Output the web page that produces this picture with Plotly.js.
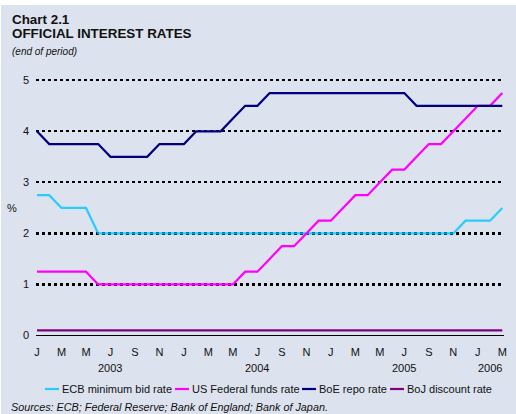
<!DOCTYPE html>
<html>
<head>
<meta charset="utf-8">
<script src="https://cdn.plot.ly/plotly-3.0.1.min.js"></script>
<style>
  html, body { margin: 0; padding: 0; background: #ffffff; width: 516px; height: 414px; overflow: hidden; }
  #chart { position: absolute; left: 1px; top: 5px; width: 515px; height: 409px; }
</style>
</head>
<body>
<div id="chart"></div>
<script>
// ---- data ----
const months = [
  '2003-01','2003-02','2003-03','2003-04','2003-05','2003-06','2003-07','2003-08','2003-09','2003-10','2003-11','2003-12',
  '2004-01','2004-02','2004-03','2004-04','2004-05','2004-06','2004-07','2004-08','2004-09','2004-10','2004-11','2004-12',
  '2005-01','2005-02','2005-03','2005-04','2005-05','2005-06','2005-07','2005-08','2005-09','2005-10','2005-11','2005-12',
  '2006-01','2006-02','2006-03'
];
const ecbRate = [
  2.75,2.75,2.5,2.5,2.5,2.0,2.0,2.0,2.0,2.0,2.0,2.0,
  2.0,2.0,2.0,2.0,2.0,2.0,2.0,2.0,2.0,2.0,2.0,2.0,
  2.0,2.0,2.0,2.0,2.0,2.0,2.0,2.0,2.0,2.0,2.0,2.25,
  2.25,2.25,2.5
];
const usRate = [
  1.25,1.25,1.25,1.25,1.25,1.0,1.0,1.0,1.0,1.0,1.0,1.0,
  1.0,1.0,1.0,1.0,1.0,1.25,1.25,1.5,1.75,1.75,2.0,2.25,
  2.25,2.5,2.75,2.75,3.0,3.25,3.25,3.5,3.75,3.75,4.0,4.25,
  4.5,4.5,4.75
];
const boeRate = [
  4.0,3.75,3.75,3.75,3.75,3.75,3.5,3.5,3.5,3.5,3.75,3.75,
  3.75,4.0,4.0,4.0,4.25,4.5,4.5,4.75,4.75,4.75,4.75,4.75,
  4.75,4.75,4.75,4.75,4.75,4.75,4.75,4.5,4.5,4.5,4.5,4.5,
  4.5,4.5,4.5
];
const bojRate = [
  0.1,0.1,0.1,0.1,0.1,0.1,0.1,0.1,0.1,0.1,0.1,0.1,
  0.1,0.1,0.1,0.1,0.1,0.1,0.1,0.1,0.1,0.1,0.1,0.1,
  0.1,0.1,0.1,0.1,0.1,0.1,0.1,0.1,0.1,0.1,0.1,0.1,
  0.1,0.1,0.1
];
const seriesNames = ['ECB minimum bid rate','US Federal funds rate','BoE repo rate','BoJ discount rate'];
const monthTickVals = ['2003-01','2003-03','2003-05','2003-07','2003-09','2003-11',
  '2004-01','2004-03','2004-05','2004-07','2004-09','2004-11',
  '2005-01','2005-03','2005-05','2005-07','2005-09','2005-11',
  '2006-01','2006-03'];
const monthTickText = ['J','M','M','J','S','N','J','M','M','J','S','N','J','M','M','J','S','N','J','M'];
const yearLabels = ['2003','2004','2005','2006'];
const yearPositions = ['2003-07','2004-07','2005-07','2006-02'];
const yTickVals = [0,1,2,3,4,5];

// ---- styles ----
const colors = ['rgba(0,200,255,0.82)','#ff00ff','#000080','#800080'];
const FONT = 'Liberation Sans, Arial, Helvetica, sans-serif';
const BG = '#dce2ee';

// page pixel -> paper coordinates
const L = 35, R = 12, T = 73, B = 77, DW = 515, DH = 409, OX = 1, OY = 5;
const PW = DW - L - R, PH = DH - T - B;
const px = x => (x - OX - L) / PW;
const py = y => (DH - B - (y - OY)) / PH;

const allSeries = [ecbRate, usRate, boeRate, bojRate];
const traces = allSeries.map((vals, i) => ({
  type: 'scatter', mode: 'lines', x: months, y: vals, name: seriesNames[i],
  line: { color: colors[i], width: 2.2 }, showlegend: false, hoverinfo: 'skip'
}));

const annotations = [
  { text: '<b>Chart 2.1</b>', x: px(9.5), y: py(19), font: { size: 13.4, color: '#111' } },
  { text: '<b>OFFICIAL INTEREST RATES</b>', x: px(9.5), y: py(34), font: { size: 13.4, color: '#111' } },
  { text: '<i>(end of period)</i>', x: px(10), y: py(51.5), font: { size: 10, color: '#111' } },
  { text: '<i>Sources: ECB; Federal Reserve; Bank of England; Bank of Japan.</i>', x: px(9), y: py(407), font: { size: 10.8, color: '#111' } },
].map(a => Object.assign({ xref: 'paper', yref: 'paper', xanchor: 'left', yanchor: 'middle', showarrow: false }, a));

annotations.push({ text: '%', xref: 'paper', yref: 'paper', x: px(12), y: py(208), xanchor: 'center', yanchor: 'middle',
  showarrow: false, font: { size: 11, color: '#111' } });

yearLabels.forEach((t, i) => annotations.push({
  text: t, xref: 'x', yref: 'paper', x: yearPositions[i], y: py(368), xanchor: 'center', yanchor: 'middle',
  showarrow: false, font: { size: 11, color: '#111' }
}));

// manual legend
const legendTextX = [61, 191, 318, 406];
const shapes = [];
seriesNames.forEach((n, i) => {
  shapes.push({ type: 'line', xref: 'paper', yref: 'paper', x0: px(legendTextX[i] - 16), x1: px(legendTextX[i] - 2),
    y0: py(389), y1: py(389), line: { color: colors[i], width: 2.2 } });
  annotations.push({ text: n, xref: 'paper', yref: 'paper', x: px(legendTextX[i] - 1), y: py(389), xanchor: 'left', yanchor: 'middle',
    showarrow: false, font: { size: 11, color: '#111' } });
});

const layout = {
  width: DW, height: DH,
  margin: { l: L, r: R, t: T, b: B, pad: 0 },
  paper_bgcolor: BG, plot_bgcolor: BG,
  font: { family: FONT, size: 11, color: '#111' },
  showlegend: false,
  xaxis: {
    type: 'category', range: [-0.082, 38.14], tickvals: monthTickVals, ticktext: monthTickText,
    showgrid: false, zeroline: false, showline: false, ticks: '', ticklabelstandoff: 7,
    tickfont: { size: 11, color: '#111' }, fixedrange: true
  },
  yaxis: {
    range: [-0.0294, 5.045], tickvals: yTickVals, ticks: '', showline: false,
    showgrid: true, gridcolor: '#000', gridwidth: 2.2, griddash: '3px,3px',
    zeroline: true, zerolinecolor: '#000', zerolinewidth: 1.5, ticklabelstandoff: 6,
    tickfont: { size: 11, color: '#111' }, fixedrange: true
  },
  annotations: annotations,
  shapes: shapes
};

Plotly.newPlot('chart', traces, layout, { displayModeBar: false, staticPlot: true });
</script>
</body>
</html>
